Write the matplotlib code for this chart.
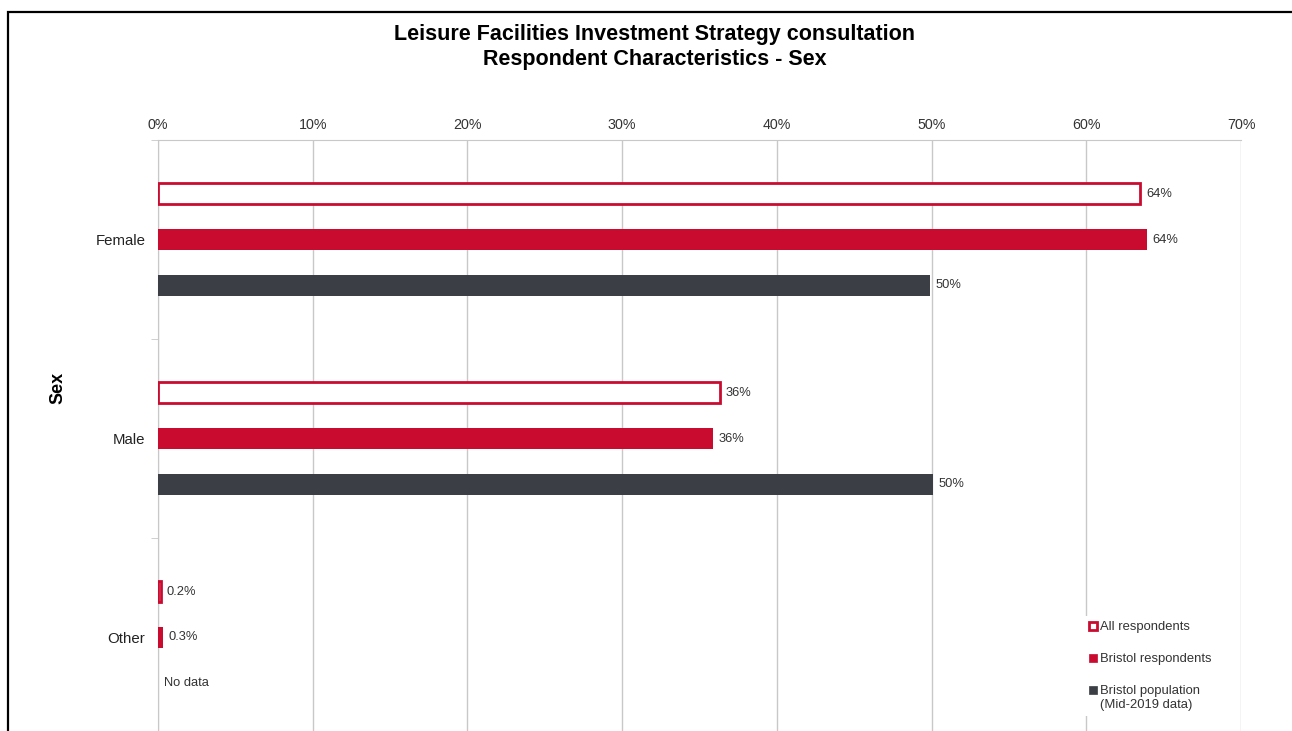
import numpy as np
import matplotlib.pyplot as plt
from matplotlib.patches import Rectangle

plt.rcParams['font.family'] = ['Liberation Sans', 'DejaVu Sans']

# data
categories = ['Female', 'Male', 'Other']
series_names = ['All respondents', 'Bristol respondents', 'Bristol population\n(Mid-2019 data)']
all_resp = [63.5, 36.3, 0.2]
bristol_resp = [63.9, 35.9, 0.3]
bristol_pop = [49.9, 50.1, np.nan]
all_labels = ['64%', '36%', '0.2%']
bristol_labels = ['64%', '36%', '0.3%']
pop_labels = ['50%', '50%', 'No data']
x_ticks = [0, 10, 20, 30, 40, 50, 60, 70]

red = '#CA0B30'
dark = '#3B3F45'
txt = '#333333'

W, H = 1292, 731
fig = plt.figure(figsize=(W / 100, H / 100), dpi=100)

# outer frame (cropped on the right and bottom)
fig.patches.append(Rectangle((8 / W, -0.05), 1.2, 1 - 12 / H + 0.05, transform=fig.transFigure,
                             fill=False, edgecolor='black', linewidth=1.6))

ax = fig.add_axes([158 / W, 1 - 737 / H, (1241 - 158) / W, 597 / H])

y = np.arange(len(categories))
off = 0.231
h = 0.11

ax.barh(y - off, all_resp, height=h, facecolor='white', edgecolor=red, linewidth=2, zorder=3)
ax.barh(y, bristol_resp, height=h, color=red, zorder=3)
ax.barh(y + off, np.nan_to_num(bristol_pop), height=h, color=dark, zorder=3)

for vals, labs, dy in [(all_resp, all_labels, -off), (bristol_resp, bristol_labels, 0), (bristol_pop, pop_labels, off)]:
    for i, (v, lab) in enumerate(zip(vals, labs)):
        xv = 0 if np.isnan(v) else v
        ax.annotate(lab, (xv, i + dy), xytext=(4, 0), textcoords='offset points',
                    ha='left', va='center', fontsize=9.3, color=txt)

ax.set_xlim(0, 70)
ax.set_ylim(2.5, -0.5)
ax.xaxis.tick_top()
ax.set_xticks(x_ticks)
ax.set_xticklabels([f'{t}%' for t in x_ticks], fontsize=10.3, color=txt)
ax.tick_params(axis='x', length=0, pad=6)
ax.grid(axis='x', color='#C8C8C8', linewidth=1, zorder=0)

ax.set_yticks(y)
ax.set_yticklabels(categories, fontsize=10.8, color='#222222')
ax.set_yticks([-0.5, 0.5, 1.5, 2.5], minor=True)
ax.tick_params(axis='y', which='major', length=0, pad=9)
ax.tick_params(axis='y', which='minor', length=5, color='#C8C8C8')

for s in ['right', 'bottom']:
    ax.spines[s].set_visible(False)
for s in ['top', 'left']:
    ax.spines[s].set_color('#C8C8C8')

fig.text(58 / W, 1 - 388 / H, 'Sex', rotation=90, ha='center', va='center',
         fontsize=13, fontweight='bold', color='black')

fig.text(655 / W, 1 - 34.5 / H, 'Leisure Facilities Investment Strategy consultation',
         ha='center', va='center', fontsize=15.5, fontweight='bold', color='black')
fig.text(655 / W, 1 - 59.5 / H, 'Respondent Characteristics - Sex',
         ha='center', va='center', fontsize=15.5, fontweight='bold', color='black')

# legend, drawn by hand so the marker sits on the first line of each label
fig.patches.append(Rectangle((1080 / W, 1 - 716 / H), 150 / W, 100 / H, transform=fig.transFigure,
                             facecolor='white', edgecolor='none', zorder=2))
leg_y = [626, 658, 690]
leg_face = ['white', red, dark]
for yy, fc, name in zip(leg_y, leg_face, series_names):
    fig.patches.append(Rectangle((1089 / W, 1 - (yy + 4) / H), 8 / W, 8 / H, transform=fig.transFigure,
                                 facecolor=fc, edgecolor=red if fc == 'white' else fc,
                                 linewidth=2 if fc == 'white' else 0.5, zorder=3))
    fig.text(1100 / W, 1 - (yy - 5) / H, name, ha='left', va='top', fontsize=9.4,
             color=txt, linespacing=1.2, zorder=4)

fig.savefig('out.png', dpi=100)
